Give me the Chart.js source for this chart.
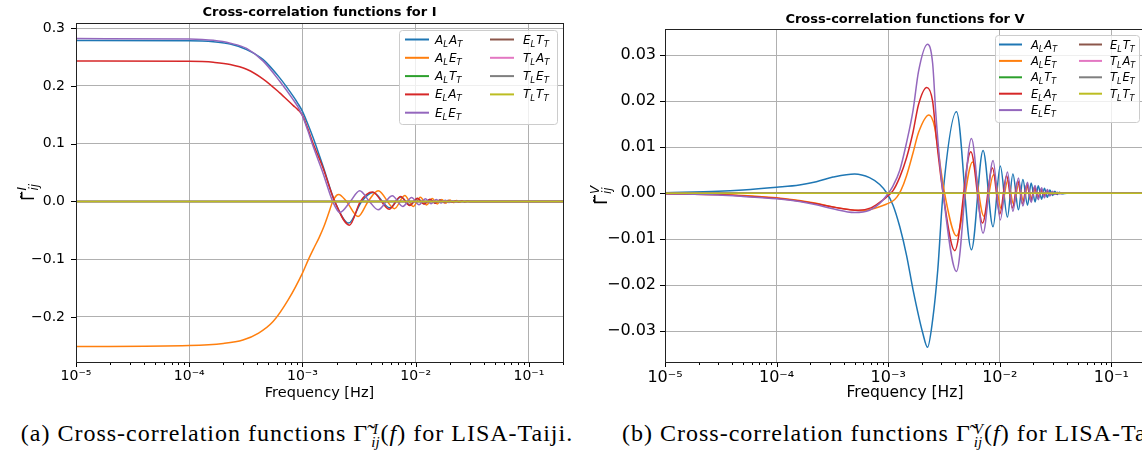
<!DOCTYPE html>
<html>
<head>
<meta charset="utf-8">
<script src="https://cdn.jsdelivr.net/npm/chart.js@4.4.1/dist/chart.umd.min.js"></script>
<style>
  html, body { margin: 0; padding: 0; background: #fff; overflow: hidden; width: 1142px; height: 457px; }
  #wrap { position: relative; width: 1142px; height: 457px; overflow: hidden; }
  canvas { position: absolute; top: 0; }
  #cI { left: 0; }
  #cV { left: 580px; }
  .cap { position: absolute; top: 420px; font-family: "Liberation Serif", "DejaVu Serif", serif; font-size: 24px; letter-spacing: 1px; line-height: 26px; white-space: nowrap; color: #000; }
  .st { display: inline-block; vertical-align: -6px; font-size: 15px; font-style: italic; line-height: 13px; margin-left: 3px; margin-right: 1px; letter-spacing: 0; }
  #capA { left: 0; width: 594px; text-align: center; }
  #capB { left: 622px; }
</style>
</head>
<body>
<div id="wrap">
  <canvas id="cI" width="580" height="403"></canvas>
  <canvas id="cV" width="580" height="403"></canvas>
  <div class="cap" id="capA">(a) Cross-correlation functions Γ̃<span class="st">I<br>ij</span>(<i>f</i>) for LISA-Taiji.</div>
  <div class="cap" id="capB">(b) Cross-correlation functions Γ̃<span class="st">V<br>ij</span>(<i>f</i>) for LISA-Taiji.</div>
</div>
<script>
// series names and colours (matplotlib tab10 order)
const pairLabels = ["A_LA_T", "A_LE_T", "A_LT_T", "E_LA_T", "E_LE_T", "E_LT_T", "T_LA_T", "T_LE_T", "T_LT_T"]
const lineColors = ["#1f77b4", "#ff7f0e", "#2ca02c", "#d62728", "#9467bd", "#8c564b", "#e377c2", "#7f7f7f", "#bcbd22"]

// axis ticks
const xMajor = [1e-5, 1e-4, 1e-3, 1e-2, 1e-1]
const xTickLabels = ["10⁻⁵", "10⁻⁴", "10⁻³", "10⁻²", "10⁻¹"]
const yTicksI = [-0.2, -0.1, 0, 0.1, 0.2, 0.3]
const yTicksV = [-0.03, -0.02, -0.01, 0, 0.01, 0.02, 0.03]

// [frequency Hz, value]
const zeroLine = [[1e-5, 0], [0.2, 0]]

const I_AA = [[1e-5, 0.2785], [1e-4, 0.2783], [1.3e-4, 0.2778], [1.63e-4, 0.2765], [2.3e-4, 0.2725], [3.21e-4, 0.263], [4.5e-4, 0.2456],
  [6.3e-4, 0.214], [8.3e-4, 0.182], [9.1e-4, 0.17], [1e-3, 0.156], [1.11e-3, 0.135], [1.245e-3, 0.11], [1.52e-3, 0.061],
  [1.93e-3, 0], [2.56e-3, -0.0375], [3.33e-3, 0],
  [4.2e-3, 0.0155], [5.9e-3, -0.011], [7.4e-3, 0.0075], [8.9e-3, -0.0062], [1.04e-2, 0.005], [1.19e-2, -0.0042],
  [1.34e-2, 0.0035], [1.49e-2, -0.003], [1.64e-2, 0.0025], [1.79e-2, -0.002], [1.94e-2, 0.0016], [2.09e-2, -0.0013],
  [2.24e-2, 0.001], [2.39e-2, -0.0008], [2.54e-2, 0.0006], [2.69e-2, -0.0004], [2.84e-2, 0.0002], [3.2e-2, 0], [0.2, 0]]

const I_AE = [[1e-5, -0.2513], [1e-4, -0.2495], [2e-4, -0.246], [2.98e-4, -0.24], [4.1e-4, -0.228], [5.5e-4, -0.208],
  [7.5e-4, -0.17], [1e-3, -0.124], [1.12e-3, -0.102], [1.26e-3, -0.081], [1.4e-3, -0.063], [1.55e-3, -0.043],
  [1.7e-3, -0.021], [1.85e-3, 0], [2.0e-3, 0.0105], [2.09e-3, 0.0122], [2.45e-3, 0],
  [3.1e-3, -0.026], [3.8e-3, 0], [4.66e-3, 0.0185], [6.5e-3, -0.0125], [8.0e-3, 0.0105], [9.5e-3, -0.0088],
  [1.1e-2, 0.0072], [1.25e-2, -0.006], [1.4e-2, 0.005], [1.55e-2, -0.0042], [1.7e-2, 0.0035], [1.85e-2, -0.0029],
  [2.0e-2, 0.0024], [2.15e-2, -0.0019], [2.3e-2, 0.0015], [2.45e-2, -0.0012], [2.6e-2, 0.0009], [2.75e-2, -0.0006],
  [2.9e-2, 0.0004], [3.05e-2, -0.0002], [3.4e-2, 0], [0.2, 0]]

const I_EA = [[1e-5, 0.2433], [1e-4, 0.2428], [1.3e-4, 0.2422], [1.63e-4, 0.241], [2.3e-4, 0.2372], [3.21e-4, 0.229], [4.5e-4, 0.212],
  [6.3e-4, 0.188], [8.3e-4, 0.166], [9.1e-4, 0.159], [1e-3, 0.149], [1.11e-3, 0.127], [1.245e-3, 0.1], [1.52e-3, 0.058],
  [1.93e-3, 0], [2.6e-3, -0.041], [3.25e-3, 0],
  [4.15e-3, 0.0163], [5.85e-3, -0.0135], [7.35e-3, 0.0085], [8.85e-3, -0.007], [1.035e-2, 0.0055], [1.185e-2, -0.0046],
  [1.335e-2, 0.0038], [1.485e-2, -0.0032], [1.635e-2, 0.0027], [1.785e-2, -0.0022], [1.935e-2, 0.0018],
  [2.085e-2, -0.0014], [2.235e-2, 0.0011], [2.385e-2, -0.0008], [2.535e-2, 0.0006], [2.685e-2, -0.0004],
  [2.835e-2, 0.0002], [3.2e-2, 0], [0.2, 0]]

const I_EE = [[1e-5, 0.282], [1e-4, 0.2812], [1.3e-4, 0.2805], [1.63e-4, 0.279], [2.3e-4, 0.274], [3.21e-4, 0.265], [4.5e-4, 0.243],
  [6.3e-4, 0.208], [8.3e-4, 0.176], [9.1e-4, 0.164], [1e-3, 0.148], [1.11e-3, 0.124], [1.245e-3, 0.095], [1.52e-3, 0.049],
  [1.85e-3, 0], [2.14e-3, -0.019], [2.65e-3, 0],
  [3.2e-3, 0.0185], [3.9e-3, 0], [4.66e-3, -0.0144], [6.2e-3, 0.0099], [7.7e-3, -0.0087], [9.2e-3, 0.0068],
  [1.07e-2, -0.0056], [1.22e-2, 0.0046], [1.37e-2, -0.0039], [1.52e-2, 0.0033], [1.67e-2, -0.0027], [1.82e-2, 0.0022],
  [1.97e-2, -0.0018], [2.12e-2, 0.0014], [2.27e-2, -0.0011], [2.42e-2, 0.0008], [2.57e-2, -0.0006], [2.72e-2, 0.0004],
  [2.87e-2, -0.0002], [3.2e-2, 0], [0.2, 0]]

const V_AA = [[1e-5, 0.0001], [3e-5, 0.0004], [5e-5, 0.0007], [1e-4, 0.0013], [1.6e-4, 0.0018], [2.27e-4, 0.0025],
  [3.2e-4, 0.0035], [5.0e-4, 0.0042], [6.8e-4, 0.0034], [8.4e-4, 0.0019], [9.6e-4, 0.0002], [1.1e-3, -0.0025],
  [1.27e-3, -0.0073], [1.46e-3, -0.0135], [1.67e-3, -0.021], [2.04e-3, -0.0304], [2.25e-3, -0.0335], [2.5e-3, -0.0276],
  [2.78e-3, -0.0167], [3.1e-3, 0],
  [4.09e-3, 0.0177], [5.57e-3, -0.0123], [7.08e-3, 0.0093], [8.7e-3, -0.0073], [1.01e-2, 0.0059], [1.17e-2, -0.0052],
  [1.31e-2, 0.0042], [1.47e-2, -0.0036], [1.61e-2, 0.003], [1.77e-2, -0.0026], [1.91e-2, 0.0022], [2.07e-2, -0.0019],
  [2.21e-2, 0.0016], [2.37e-2, -0.0013], [2.51e-2, 0.0011], [2.67e-2, -0.0009], [2.81e-2, 0.0007], [2.97e-2, -0.0005],
  [3.11e-2, 0.0004], [3.27e-2, -0.0003], [3.41e-2, 0.0002], [3.6e-2, -0.0001], [4.0e-2, 0], [0.2, 0]]

const V_AE = [[1e-5, -0.0001], [3e-5, -0.0003], [5e-5, -0.0005], [1e-4, -0.001], [1.6e-4, -0.0016], [2.27e-4, -0.0022],
  [3.2e-4, -0.003], [5.9e-4, -0.0038], [8e-4, -0.0031], [9.6e-4, -0.0024], [1.1e-3, -0.0017], [1.2e-3, -0.0008],
  [1.3e-3, 0.0006], [1.46e-3, 0.0038], [1.67e-3, 0.0088], [1.87e-3, 0.0132], [2.32e-3, 0.017], [2.6e-3, 0.0145],
  [2.85e-3, 0.008], [3.2e-3, 0],
  [4.1e-3, -0.0093], [5.7e-3, 0.0068], [7.2e-3, -0.005], [8.8e-3, 0.004], [1.03e-2, -0.0033], [1.18e-2, 0.0028],
  [1.33e-2, -0.0024], [1.48e-2, 0.002], [1.63e-2, -0.0017], [1.78e-2, 0.0014], [1.93e-2, -0.0011], [2.08e-2, 0.0009],
  [2.23e-2, -0.0007], [2.38e-2, 0.0005], [2.53e-2, -0.0003], [2.68e-2, 0.0002], [2.85e-2, -0.0001], [3.2e-2, 0], [0.2, 0]]

const V_EA = [[1e-5, -0.0001], [3e-5, -0.0003], [5e-5, -0.0006], [1e-4, -0.0011], [1.6e-4, -0.0017], [2.27e-4, -0.0023],
  [3.2e-4, -0.003], [5.4e-4, -0.0037], [7e-4, -0.0032], [8.5e-4, -0.0019], [9.6e-4, -0.0009], [1.1e-3, 0.0005],
  [1.27e-3, 0.0035], [1.46e-3, 0.0077], [1.67e-3, 0.0133], [1.87e-3, 0.0193], [2.22e-3, 0.023], [2.5e-3, 0.02],
  [2.7e-3, 0.012], [3.1e-3, 0],
  [3.95e-3, -0.0125], [5.5e-3, 0.009], [7.0e-3, -0.0065], [8.6e-3, 0.0055], [1.0e-2, -0.0045], [1.15e-2, 0.0038],
  [1.3e-2, -0.0032], [1.45e-2, 0.0027], [1.6e-2, -0.0023], [1.75e-2, 0.002], [1.9e-2, -0.0017], [2.05e-2, 0.0014],
  [2.2e-2, -0.0011], [2.35e-2, 0.0009], [2.5e-2, -0.0007], [2.65e-2, 0.0005], [2.8e-2, -0.0003], [2.95e-2, 0.0002],
  [3.1e-2, -0.0001], [3.5e-2, 0], [0.2, 0]]

const V_EE = [[1e-5, -0.0001], [3e-5, -0.0004], [5e-5, -0.0007], [1e-4, -0.0012], [1.6e-4, -0.0018], [2.27e-4, -0.0025],
  [3.2e-4, -0.0034], [5.0e-4, -0.0042], [6.8e-4, -0.0037], [8.4e-4, -0.0022], [9.6e-4, -0.0006], [1.1e-3, 0.0015],
  [1.27e-3, 0.005], [1.46e-3, 0.011], [1.67e-3, 0.018], [1.87e-3, 0.0265], [2.25e-3, 0.0324], [2.5e-3, 0.0283],
  [2.67e-3, 0.0174], [2.9e-3, 0.0066], [3.1e-3, 0],
  [4.09e-3, -0.017], [5.57e-3, 0.0119], [7.08e-3, -0.0087], [8.7e-3, 0.0071], [1.01e-2, -0.0058],
  [1.17e-2, 0.0046], [1.31e-2, -0.0039], [1.47e-2, 0.0033], [1.61e-2, -0.0028], [1.77e-2, 0.0024], [1.91e-2, -0.002],
  [2.07e-2, 0.0017], [2.21e-2, -0.0014], [2.37e-2, 0.0012], [2.51e-2, -0.001], [2.67e-2, 0.0008], [2.81e-2, -0.0006],
  [2.97e-2, 0.0004], [3.11e-2, -0.0003], [3.27e-2, 0.0002], [3.41e-2, -0.0001], [3.8e-2, 0], [0.2, 0]]

const seriesI = [I_AA, I_AE, zeroLine, I_EA, I_EE, zeroLine, zeroLine, zeroLine, zeroLine]
const seriesV = [V_AA, V_AE, zeroLine, V_EA, V_EE, zeroLine, zeroLine, zeroLine, zeroLine]

Chart.defaults.font.family = '"DejaVu Sans", sans-serif'
Chart.defaults.color = "#000"

const gridColor = "#b0b0b0"
const isMajor = v => xMajor.some(m => Math.abs(v / m - 1) < 1e-6)
const xTickVals = []
xMajor.forEach(d => { for (let k = 1; k <= 9; k++) { const v = +(k * d).toPrecision(6); if (v <= 0.2 + 1e-12) xTickVals.push(v) } })

function drawPairs(ctx, text, x, y, big, small) {
  for (const m of text.matchAll(/([A-Z])_([A-Z])/g)) {
    ctx.font = `italic ${big}px "DejaVu Sans"`
    ctx.fillText(m[1], x, y)
    x += ctx.measureText(m[1]).width
    ctx.font = `italic ${small}px "DejaVu Sans"`
    ctx.fillText(m[2], x, y + 3)
    x += ctx.measureText(m[2]).width + 1
  }
}

const decor = {
  id: "decor",
  afterDraw(chart, args, o) {
    const { ctx, chartArea: a } = chart
    const xs = chart.scales.x, ys = chart.scales.y
    ctx.save()
    ctx.strokeStyle = "#000"
    ctx.lineWidth = 1
    ctx.beginPath()
    xs.ticks.forEach(t => {
      const px = Math.round(xs.getPixelForValue(t.value)) + 0.5
      ctx.moveTo(px, a.bottom); ctx.lineTo(px, a.bottom + (isMajor(t.value) ? 5 : 3))
    })
    ys.ticks.forEach(t => {
      const py = Math.round(ys.getPixelForValue(t.value)) + 0.5
      ctx.moveTo(a.left - 5, py); ctx.lineTo(a.left, py)
    })
    ctx.stroke()
    ctx.strokeStyle = "#222"
    ctx.strokeRect(Math.round(a.left) + 0.5, Math.round(a.top) + 0.5, Math.round(a.right - a.left), Math.round(a.bottom - a.top))

    // title
    ctx.fillStyle = "#000"
    ctx.font = 'bold 13px "DejaVu Sans"'
    ctx.textAlign = "center"
    ctx.textBaseline = "middle"
    ctx.fillText(o.title, (a.left + a.right) / 2, o.titleY)

    // y label
    ctx.save()
    ctx.translate(o.ylabX, (a.top + a.bottom) / 2)
    ctx.rotate(-Math.PI / 2)
    ctx.textAlign = "left"
    ctx.textBaseline = "alphabetic"
    const gf = `${o.ylabSize}px "DejaVu Sans"`, sf = `italic ${Math.round(o.ylabSize * 0.68)}px "DejaVu Sans"`
    ctx.font = gf
    const g = "Γ̃", wg = ctx.measureText(g).width
    ctx.font = sf
    const wsup = ctx.measureText(o.ysup).width, wsub = ctx.measureText("ij").width
    const x0 = -(wg + Math.max(wsup, wsub) + 1) / 2
    ctx.font = gf
    ctx.fillText(g, x0, 6)
    ctx.font = sf
    ctx.fillText(o.ysup, x0 + wg + 1, -2)
    ctx.fillText("ij", x0 + wg + 1, 10)
    ctx.restore()

    // legend
    const L = o.legend
    ctx.fillStyle = "rgba(255,255,255,0.8)"
    ctx.strokeStyle = "#cccccc"
    ctx.beginPath()
    ctx.roundRect(L.x + 0.5, L.y + 0.5, L.w, L.h, 3)
    ctx.fill(); ctx.stroke()
    ctx.textAlign = "left"
    ctx.textBaseline = "alphabetic"
    pairLabels.forEach((lab, i) => {
      const col = i < 5 ? 0 : 1, row = i < 5 ? i : i - 5
      const y = L.y + L.row0 + row * L.dy
      const lx = L.x + L.lx[col]
      ctx.strokeStyle = lineColors[i]
      ctx.lineWidth = 2
      ctx.beginPath(); ctx.moveTo(lx, y); ctx.lineTo(lx + L.len, y); ctx.stroke()
      ctx.fillStyle = "#000"
      drawPairs(ctx, lab, L.x + L.tx[col], y + 4, L.big, L.small)
    })
    ctx.restore()
  }
}

function makeChart(id, cfg) {
  const datasets = cfg.series.map((pts, i) => ({
    label: pairLabels[i],
    data: pts.map(([x, y]) => ({ x, y })),
    borderColor: lineColors[i],
    borderWidth: 1.5,
    pointRadius: 0,
    fill: false,
    cubicInterpolationMode: "monotone",
    order: 9 - i
  }))
  return new Chart(document.getElementById(id), {
    type: "line",
    data: { datasets },
    options: {
      responsive: false, animation: false, events: [],
      layout: { padding: cfg.pad },
      plugins: { legend: { display: false }, tooltip: { enabled: false }, decor: cfg.decor },
      scales: {
        x: {
          type: "logarithmic", min: 1e-5, max: 0.2,
          afterBuildTicks: s => { s.ticks = xTickVals.map(v => ({ value: v })) },
          afterFit: s => { s.height = 41 },
          ticks: { autoSkip: false, maxRotation: 0, padding: 6, font: { size: cfg.tickSize }, color: "#000",
            callback: v => { const k = xMajor.findIndex(m => Math.abs(v / m - 1) < 1e-6); return k >= 0 ? xTickLabels[k] : "" } },
          grid: { drawTicks: false, color: c => (c.tick && isMajor(c.tick.value)) ? gridColor : "rgba(0,0,0,0)" },
          border: { display: false },
          title: { display: true, text: "Frequency [Hz]", font: { size: cfg.labelSize }, color: "#000", padding: { top: 0, bottom: 1 } }
        },
        y: {
          type: "linear", min: cfg.yMin, max: cfg.yMax,
          afterBuildTicks: s => { s.ticks = cfg.yTicks.map(v => ({ value: v })) },
          afterFit: s => { s.width = cfg.yWidth },
          ticks: { padding: cfg.yPad, font: { size: cfg.tickSize }, color: "#000", callback: cfg.yFmt },
          grid: { drawTicks: false, color: gridColor },
          border: { display: false }
        }
      }
    },
    plugins: [decor]
  })
}

makeChart("cI", {
  series: seriesI, yMin: -0.278, yMax: 0.309, yTicks: yTicksI, yWidth: 76, yPad: 11,
  tickSize: 14, labelSize: 14.5,
  yFmt: v => v.toFixed(1).replace("-", "\u2212"),
  pad: { left: 0, right: 17, top: 23, bottom: 0 },
  decor: {
    title: "Cross-correlation functions for I", titleY: 13, ylabX: 28, ysup: "I", ylabSize: 17,
    legend: { x: 399, y: 30, w: 158, h: 94, row0: 9.5, dy: 18.3, lx: [6, 91], tx: [36, 124], len: 24, big: 12, small: 8.5 }
  }
})

makeChart("cV", {
  series: seriesV, yMin: -0.0367, yMax: 0.0357, yTicks: yTicksV, yWidth: 85, yPad: 9,
  tickSize: 16, labelSize: 15.5,
  yFmt: v => v.toFixed(2).replace("-", "\u2212"),
  pad: { left: 0, right: 15, top: 29, bottom: 0 },
  decor: {
    title: "Cross-correlation functions for V", titleY: 20, ylabX: 21, ysup: "V", ylabSize: 18,
    legend: { x: 415, y: 35, w: 144, h: 87, row0: 9.5, dy: 16.4, lx: [4, 84], tx: [36, 115], len: 23, big: 11.5, small: 8 }
  }
})
</script>
</body>
</html>
